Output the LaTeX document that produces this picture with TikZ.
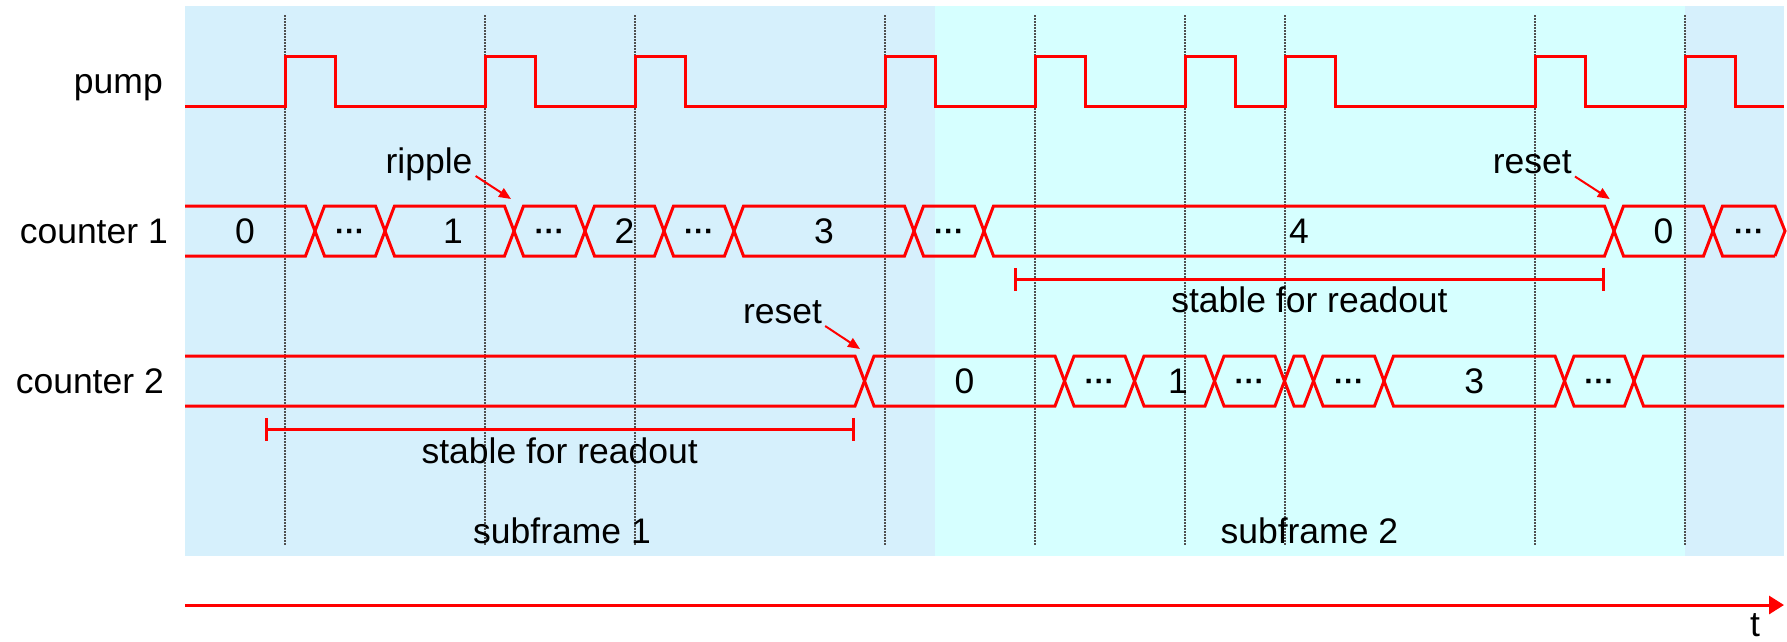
\documentclass[tikz,border=0pt]{standalone}
\usepackage{fontspec}
\setmainfont{Liberation Sans}
\usetikzlibrary{arrows.meta}
\definecolor{frameA}{RGB}{214,240,252}
\definecolor{frameB}{RGB}{214,255,255}
\definecolor{sigred}{RGB}{255,0,0}
\definecolor{gridgray}{RGB}{80,80,80}
\begin{document}
\begin{tikzpicture}[x=1pt,y=-1pt,
  sig/.style={draw=sigred, line width=3pt, line join=miter},
  clockline/.style={draw=gridgray, line width=1.5pt, dash pattern=on 1.5pt off 1.5pt},
  lbl/.style={inner sep=0pt, font=\fontsize{35.5pt}{42pt}\selectfont},
  val/.style={lbl, anchor=base},
  ellip/.style={inner sep=0pt, anchor=base, font=\fontsize{30pt}{36pt}\selectfont\bfseries},
  pointer/.style={draw=sigred, line width=2pt, -{Triangle[length=12pt,width=10pt]}},
  readspan/.style={sig, {Bar[width=23pt]}-{Bar[width=23pt]}},
]
\useasboundingbox (0,0) rectangle (1787,641);

% subframe backgrounds
\fill[frameA] (185,6) rectangle (1784,555.7);
\fill[frameB] (935,6) rectangle (1685,555.7);

% pump clock edges
\foreach \r in {285,485,635,885,1035,1185,1285,1535,1685}
  \draw[clockline] (\r,15) -- (\r,545);

% pump signal
\draw[sig] (185,106)
  foreach \r in {285,485,635,885,1035,1185,1285,1535,1685}
    { -- (\r,106) -- (\r,56) -- ({\r+50},56) -- ({\r+50},106) }
  -- (1784,106);

% counter 1 bus
\draw[sig] (185,206) -- (305.5,206) -- (324.5,256) -- (375.5,256) -- (394.5,206)
  -- (504.5,206) -- (523.5,256) -- (575.5,256) -- (594.5,206) -- (654.5,206)
  -- (673.5,256) -- (724.5,256) -- (743.5,206) -- (904.5,206) -- (923.5,256)
  -- (974.5,256) -- (993.5,206) -- (1604.5,206) -- (1623.5,256) -- (1703.5,256)
  -- (1722.5,206) -- (1775,206) -- (1785,231) -- (1775,256);
\draw[sig] (185,256) -- (305.5,256) -- (324.5,206) -- (375.5,206) -- (394.5,256)
  -- (504.5,256) -- (523.5,206) -- (575.5,206) -- (594.5,256) -- (654.5,256)
  -- (673.5,206) -- (724.5,206) -- (743.5,256) -- (904.5,256) -- (923.5,206)
  -- (974.5,206) -- (993.5,256) -- (1604.5,256) -- (1623.5,206) -- (1703.5,206)
  -- (1722.5,256) -- (1775,256);

% counter 2 bus
\draw[sig] (185,356) -- (855,356) -- (874,406) -- (1055,406) -- (1074,356)
  -- (1125,356) -- (1144,406) -- (1205,406) -- (1224,356) -- (1275,356)
  -- (1294,406) -- (1304,406) -- (1323,356) -- (1374.5,356) -- (1393.5,406)
  -- (1555,406) -- (1574,356) -- (1624.5,356) -- (1643.5,406) -- (1784,406);
\draw[sig] (185,406) -- (855,406) -- (874,356) -- (1055,356) -- (1074,406)
  -- (1125,406) -- (1144,356) -- (1205,356) -- (1224,406) -- (1275,406)
  -- (1294,356) -- (1304,356) -- (1323,406) -- (1374.5,406) -- (1393.5,356)
  -- (1555,356) -- (1574,406) -- (1624.5,406) -- (1643.5,356) -- (1784,356);

% row labels
\node[lbl, anchor=base east] (pumplbl) at (163,93.3) {pump};
\node[lbl, anchor=base east] (c1lbl) at (168,243.3) {counter 1};
\node[lbl, anchor=base east] (c2lbl) at (164,393.3) {counter 2};

% counter 1 values
\node[val] (c1v0) at (245,243.3) {0};
\node[ellip] (c1d1) at (350,241) {\textperiodcentered\textperiodcentered\textperiodcentered};
\node[val] (c1v1) at (453,243.3) {1};
\node[ellip] (c1d2) at (549.5,241) {\textperiodcentered\textperiodcentered\textperiodcentered};
\node[val] (c1v2) at (624.5,243.3) {2};
\node[ellip] (c1d3) at (699,241) {\textperiodcentered\textperiodcentered\textperiodcentered};
\node[val] (c1v3) at (824,243.3) {3};
\node[ellip] (c1d4) at (949,241) {\textperiodcentered\textperiodcentered\textperiodcentered};
\node[val] (c1v4) at (1299,243.3) {4};
\node[val] (c1v5) at (1663.5,243.3) {0};
\node[ellip] (c1d5) at (1749,241) {\textperiodcentered\textperiodcentered\textperiodcentered};

% counter 2 values
\node[val] (c2v0) at (964.5,393.3) {0};
\node[ellip] (c2d1) at (1099.5,391) {\textperiodcentered\textperiodcentered\textperiodcentered};
\node[val] (c2v1) at (1178,393.3) {1};
\node[ellip] (c2d2) at (1249.5,391) {\textperiodcentered\textperiodcentered\textperiodcentered};
\node[ellip] (c2d3) at (1349,391) {\textperiodcentered\textperiodcentered\textperiodcentered};
\node[val] (c2v3) at (1474.3,393.3) {3};
\node[ellip] (c2d4) at (1599.3,391) {\textperiodcentered\textperiodcentered\textperiodcentered};

% ripple / reset annotations
\node[val] (ripple) at (429,173.5) {ripple};
\node[val] (reset1) at (1532.3,173.5) {reset};
\node[val] (reset2) at (782.5,323.5) {reset};
\coordinate (ripple-tip) at (511,199);
\coordinate (reset1-tip) at (1609.7,199);
\coordinate (reset2-tip) at (860,349);
\draw[pointer] ([shift={(3,2.5)}]ripple.base east) -- (ripple-tip);
\draw[pointer] ([shift={(3,3)}]reset1.base east) -- (reset1-tip);
\draw[pointer] ([shift={(3,2.5)}]reset2.base east) -- (reset2-tip);

% readout windows
\coordinate (s1a) at (1014.3,279.3);
\coordinate (s1b) at (1604.6,279.3);
\draw[readspan] (s1a) -- (s1b);
\node[val] (s1txt) at (1309.5,312.7) {stable for readout};
\coordinate (s2a) at (265,429.3);
\coordinate (s2b) at (854.5,429.3);
\draw[readspan] (s2a) -- (s2b);
\node[val] (s2txt) at (559.7,463.3) {stable for readout};

% subframe captions
\node[val] (sf1) at (562,543.3) {subframe 1};
\node[val] (sf2) at (1309.3,543.3) {subframe 2};

% time axis
\coordinate (t0) at (185,605);
\coordinate (t1) at (1784,605);
\draw[sig, -{Triangle[length=15pt,width=18pt]}] (t0) -- (t1);
\node[val] (tlbl) at (1755,636.5) {t};
\end{tikzpicture}
\end{document}
